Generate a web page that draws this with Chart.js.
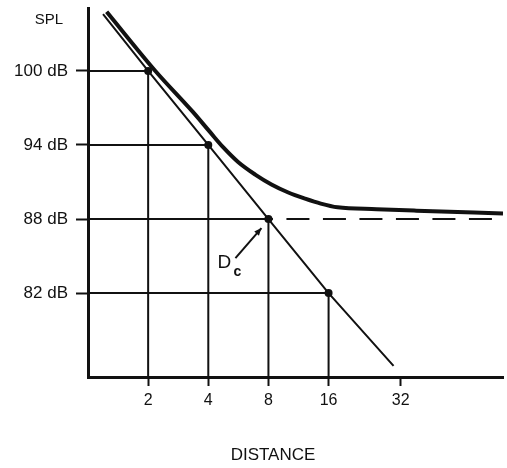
<!DOCTYPE html>
<html>
<head>
<meta charset="utf-8">
<script src="https://cdn.jsdelivr.net/npm/chart.js@4"></script>
<style>
  body { margin: 0; background: #fff; }
  #wrap { width: 507px; height: 468px; }
</style>
</head>
<body>
<div id="wrap"><canvas id="splChart"></canvas></div>
<script>
// x values are in octaves of distance (1 = 2, 2 = 4, 3 = 8 ...)
const xTickPos = [1, 2, 3, 4, 5.2];
const xTickLabels = ["2", "4", "8", "16", "32"];
const yTicks = [100, 94, 88, 82];

// reference points on the direct-sound line
const dotX = [1, 2, 3, 4];
const dotY = [100, 94, 88, 82];

// thin line: direct sound only
const directX = [0.25, 1, 2, 3, 4, 5.08];
const directY = [104.6, 100, 94, 88, 82, 76.1];

// thick curve: total SPL
const totalX = [0.31, 1.12, 1.74, 2.02, 2.25, 2.5, 2.78, 3.05, 3.33, 3.61, 3.87, 4.15, 4.8, 5.46, 6.9];
const totalY = [104.8, 100.0, 96.7, 95.1, 93.8, 92.6, 91.6, 90.8, 90.15, 89.65, 89.25, 88.95, 88.8, 88.68, 88.45];

// dashed reverberant level
const reverbX = [3, 6.9];
const reverbY = [88, 88];

const xMin = 0, xMax = 6.9;
const yMin = 75.2, yMax = 105.1;

const ink = "#111";
const font = "Liberation Sans";

function pts(xs, ys) {
  return xs.map((x, i) => ({ x: x, y: ys[i] }));
}

// drop lines from each dot to both axes
const dropSets = dotX.map((x, i) => ({
  data: [{ x: xMin, y: dotY[i] }, { x: x, y: dotY[i] }, { x: x, y: yMin }],
  borderColor: ink,
  borderWidth: 2,
  pointRadius: 0,
  tension: 0
}));

const annotations = {
  id: "annotations",
  afterDatasetsDraw(chart) {
    const ctx = chart.ctx;
    const xs = chart.scales.x, ys = chart.scales.y;
    ctx.save();
    ctx.fillStyle = ink;
    ctx.strokeStyle = ink;

    ctx.font = "15px '" + font + "'";
    ctx.textAlign = "center";
    ctx.textBaseline = "middle";
    ctx.fillText("SPL", 49, 20);

    ctx.font = "17px '" + font + "'";
    ctx.fillText("DISTANCE", 273, 455);

    // D_c label and arrow pointing to the critical distance dot
    const px = xs.getPixelForValue(dotX[2]);
    const py = ys.getPixelForValue(dotY[2]);
    ctx.font = "19px '" + font + "'";
    ctx.fillText("D", px - 44, py + 44);
    ctx.font = "bold 14px '" + font + "'";
    ctx.fillText("c", px - 31, py + 53);

    const tipX = px - 7, tipY = py + 9;
    const tailX = px - 33, tailY = py + 39;
    ctx.lineWidth = 2;
    ctx.beginPath();
    ctx.moveTo(tailX, tailY);
    ctx.lineTo(tipX, tipY);
    ctx.stroke();
    const ang = Math.atan2(tipY - tailY, tipX - tailX);
    ctx.beginPath();
    ctx.moveTo(tipX, tipY);
    ctx.lineTo(tipX - 8 * Math.cos(ang - 0.4), tipY - 8 * Math.sin(ang - 0.4));
    ctx.lineTo(tipX - 8 * Math.cos(ang + 0.4), tipY - 8 * Math.sin(ang + 0.4));
    ctx.closePath();
    ctx.fill();
    ctx.restore();
  }
};

new Chart(document.getElementById("splChart"), {
  type: "line",
  data: {
    datasets: [
      ...dropSets,
      {
        data: pts(reverbX, reverbY),
        borderColor: ink,
        borderWidth: 2,
        borderDash: [23, 13.5],
        borderDashOffset: 18.5,
        pointRadius: 0
      },
      {
        data: pts(directX, directY),
        borderColor: ink,
        borderWidth: 2,
        pointRadius: 0,
        tension: 0
      },
      {
        data: pts(totalX, totalY),
        borderColor: ink,
        borderWidth: 4,
        pointRadius: 0,
        cubicInterpolationMode: "monotone"
      },
      {
        data: pts(dotX, dotY),
        showLine: false,
        pointRadius: 4,
        pointBackgroundColor: ink,
        pointBorderWidth: 0
      }
    ]
  },
  options: {
    responsive: true,
    maintainAspectRatio: false,
    animation: false,
    layout: { padding: { top: 8, right: 0, left: 0, bottom: 0 } },
    plugins: { legend: { display: false }, tooltip: { enabled: false } },
    scales: {
      x: {
        type: "linear",
        min: xMin,
        max: xMax,
        afterBuildTicks: s => { s.ticks = xTickPos.map(v => ({ value: v })); },
        afterFit: s => { s.height = 91; s.paddingLeft = 0; s.paddingRight = 0; },
        ticks: {
          color: ink,
          padding: 5,
          maxRotation: 0,
          autoSkip: false,
          font: { family: font, size: 16 },
          callback: (v, i) => xTickLabels[i]
        },
        grid: { drawOnChartArea: false, drawTicks: true, tickLength: 9, tickWidth: 2, tickColor: ink },
        border: { color: ink, width: 3 }
      },
      y: {
        type: "linear",
        min: yMin,
        max: yMax,
        afterBuildTicks: s => { s.ticks = yTicks.map(v => ({ value: v })); },
        afterFit: s => { s.width = 88; s.paddingTop = 0; s.paddingBottom = 0; },
        ticks: {
          color: ink,
          padding: 8,
          font: { family: font, size: 17 },
          callback: v => v + " dB"
        },
        grid: { drawOnChartArea: false, drawTicks: true, tickLength: 12, tickWidth: 2, tickColor: ink },
        border: { color: ink, width: 3 }
      }
    }
  },
  plugins: [annotations]
});
</script>
</body>
</html>
